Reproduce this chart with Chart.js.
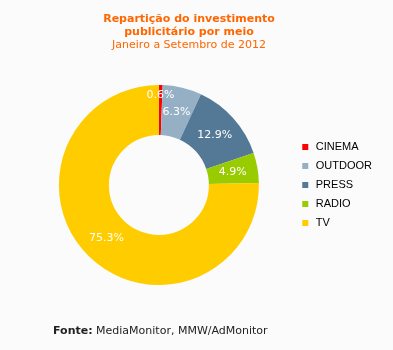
<!DOCTYPE html>
<html>
<head>
<meta charset="utf-8">
<script src="https://cdn.jsdelivr.net/npm/chart.js@4/dist/chart.umd.min.js"></script>
<style>
  body { margin: 0; background: #fbfbfb; }
  #wrap { position: relative; width: 393px; height: 350px; }
  #title { position: absolute; left: 0; top: 12px; width: 378px; text-align: center;
           font-family: "DejaVu Sans", Verdana, sans-serif; font-size: 11px; line-height: 13px; color: #ff6600; }
  #title b { font-weight: bold; }
  #source { position: absolute; left: 53px; top: 324px; font-family: "DejaVu Sans", Verdana, sans-serif;
            font-size: 11px; line-height: 13px; color: #222; }
  canvas { position: absolute; left: 0; top: 0; }
</style>
</head>
<body>
<div id="wrap">
  <canvas id="chart" width="393" height="350"></canvas>
  <div id="title"><b>Repartição do investimento<br>publicitário por meio</b><br>Janeiro a Setembro de 2012</div>
  <div id="source"><b>Fonte:</b> MediaMonitor, MMW/AdMonitor</div>
</div>
<script>
const media = ['CINEMA', 'OUTDOOR', 'PRESS', 'RADIO', 'TV'];
const share = [0.6, 6.3, 12.9, 4.9, 75.3];
const colors = ['#ff0000', '#95b0c5', '#547996', '#99cc00', '#ffcc00'];
const bg = '#fbfbfb';

// white % labels inside the slices
const sliceLabels = {
    id: 'sliceLabels',
    afterDatasetsDraw(chart) {
        const ctx = chart.ctx;
        const meta = chart.getDatasetMeta(0);
        ctx.save();
        ctx.font = '11px "DejaVu Sans", Verdana, sans-serif';
        ctx.fillStyle = '#ffffff';
        ctx.textAlign = 'center';
        ctx.textBaseline = 'middle';
        meta.data.forEach((arc, i) => {
            const p = arc.getProps(['x', 'y', 'startAngle', 'endAngle', 'innerRadius', 'outerRadius'], true);
            const mid = (p.startAngle + p.endAngle) / 2;
            let r = (p.innerRadius + p.outerRadius) / 2;
            if (share[i] < 2) r = p.outerRadius - 10;
            ctx.fillText(share[i].toFixed(1) + '%', p.x + Math.cos(mid) * r, p.y + Math.sin(mid) * r);
        });
        ctx.restore();
    }
};

new Chart(document.getElementById('chart'), {
    type: 'doughnut',
    data: {
        labels: media,
        datasets: [{
            data: share,
            backgroundColor: colors,
            borderWidth: 0
        }]
    },
    options: {
        responsive: false,
        animation: false,
        cutout: '50%',
        layout: { padding: { top: 85, bottom: 65, left: 25.5, right: 11 } },
        plugins: {
            title: { display: false },
            tooltip: { enabled: false },
            legend: {
                position: 'right',
                labels: {
                    // bigger box with a bg-coloured stroke -> small square, wider gap to the text
                    boxWidth: 10,
                    boxHeight: 10,
                    padding: 8,
                    color: '#222',
                    font: { family: '"Liberation Sans", Arial, sans-serif', size: 11 },
                    generateLabels(chart) {
                        return media.map((m, i) => ({
                            text: m,
                            fillStyle: colors[i],
                            strokeStyle: bg,
                            lineWidth: 4,
                            hidden: false,
                            index: i
                        }));
                    }
                }
            }
        }
    },
    plugins: [sliceLabels]
});
</script>
</body>
</html>
